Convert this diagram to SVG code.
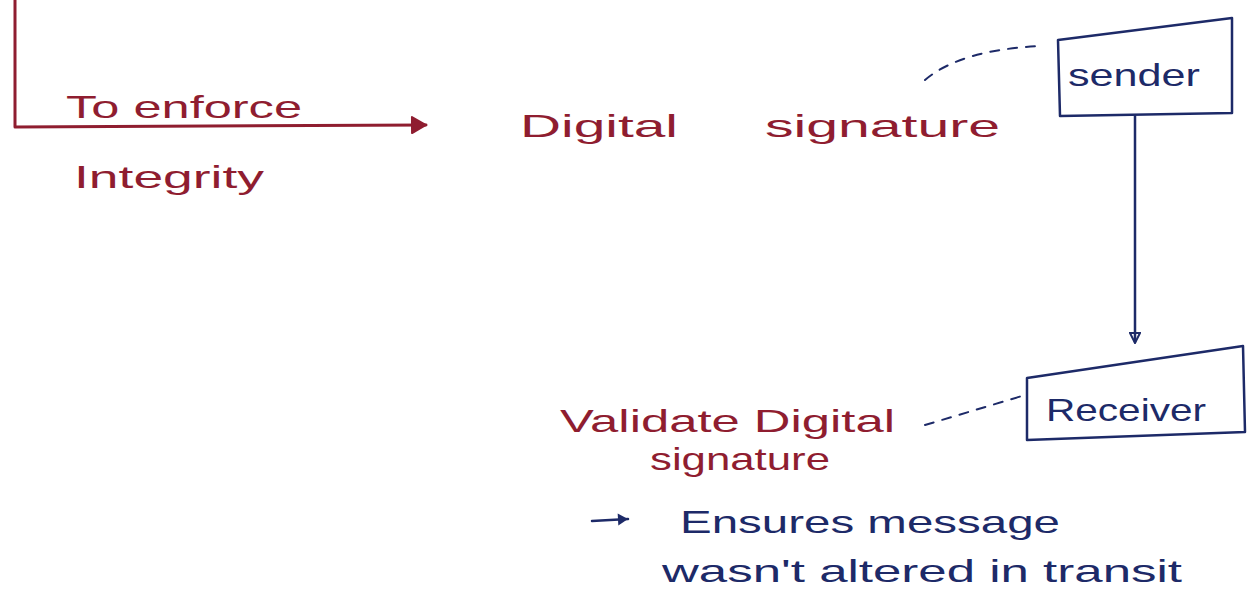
<svg xmlns="http://www.w3.org/2000/svg" width="1248" height="608" viewBox="0 0 1248 608">
  <style>
    .red { fill: none; stroke: #8f1d30; stroke-width: 3; stroke-linecap: round; stroke-linejoin: round; }
    .blue { fill: none; stroke: #1d2a68; stroke-width: 2.5; stroke-linecap: round; stroke-linejoin: round; }
    .tr { font-family: "Liberation Sans", Arial, sans-serif; fill: #8f1d30; font-size: 32px; }
    .tb { font-family: "Liberation Sans", Arial, sans-serif; fill: #1d2a68; font-size: 32px; }
    .dash { fill: none; stroke: #1d2a68; stroke-width: 2; stroke-dasharray: 9 9; stroke-linecap: round; }
  </style>
  <defs>
    <marker id="redHead" viewBox="0 0 20 20" refX="17" refY="10" markerWidth="20" markerHeight="20" markerUnits="userSpaceOnUse" orient="auto">
      <path d="M3,2 L17,10 L3,18 Z" fill="#8f1d30" stroke="#8f1d30" stroke-width="2" stroke-linejoin="round"/>
    </marker>
    <marker id="blueHead" viewBox="0 0 12 12" refX="10" refY="6" markerWidth="12" markerHeight="12" markerUnits="userSpaceOnUse" orient="auto">
      <path d="M1,1 L11,6 L1,11 Z" fill="none" stroke="#1d2a68" stroke-width="2"/>
    </marker>
    <marker id="pointHead" viewBox="0 0 14 14" refX="12" refY="7" markerWidth="14" markerHeight="14" markerUnits="userSpaceOnUse" orient="auto">
      <path d="M2,1 L12,7 L2,13 Z" fill="#1d2a68"/>
    </marker>
  </defs>
  <rect width="1248" height="608" fill="#ffffff"/>

  <g id="connectors">
    <!-- bracket leading to the digital signature -->
    <path class="red" d="M15,0 L15,127 L426,125" marker-end="url(#redHead)"/>
    <!-- sender to receiver -->
    <path class="blue" d="M1135,116 L1135,342" marker-end="url(#blueHead)"/>
    <!-- dashed links from the notes to the boxes -->
    <path class="dash" d="M925,80 Q960,50 1040,46"/>
    <path class="dash" d="M925,425 L1022,396"/>
    <!-- pointer to the result -->
    <path class="blue" d="M592,521 L628,519" marker-end="url(#pointHead)"/>
  </g>

  <g id="enforce-label">
    <text class="tr" x="66" y="118" textLength="236" lengthAdjust="spacingAndGlyphs">To enforce</text>
    <text class="tr" x="74" y="188" textLength="190" lengthAdjust="spacingAndGlyphs">Integrity</text>
  </g>

  <g id="digital-signature">
    <text class="tr" x="520" y="137" font-size="36" textLength="158" lengthAdjust="spacingAndGlyphs">Digital</text>
    <text class="tr" x="765" y="137" font-size="36" textLength="235" lengthAdjust="spacingAndGlyphs">signature</text>
  </g>

  <g id="sender">
    <path class="blue" d="M1058,40 L1232,18 L1232,113 L1060,116 Z"/>
    <text class="tb" x="1068" y="86" textLength="132" lengthAdjust="spacingAndGlyphs">sender</text>
  </g>

  <g id="receiver">
    <path class="blue" d="M1027,378 L1243,346 L1245,432 L1027,440 Z"/>
    <text class="tb" x="1046" y="421" textLength="160" lengthAdjust="spacingAndGlyphs">Receiver</text>
  </g>

  <g id="validate">
    <text class="tr" font-size="30" x="560" y="432" textLength="335" lengthAdjust="spacingAndGlyphs">Validate Digital</text>
    <text class="tr" font-size="30" x="650" y="470" textLength="180" lengthAdjust="spacingAndGlyphs">signature</text>
  </g>

  <g id="result">
    <text class="tb" x="680" y="533" textLength="380" lengthAdjust="spacingAndGlyphs">Ensures message</text>
    <text class="tb" x="662" y="582" textLength="520" lengthAdjust="spacingAndGlyphs">wasn't altered in transit</text>
  </g>
</svg>
